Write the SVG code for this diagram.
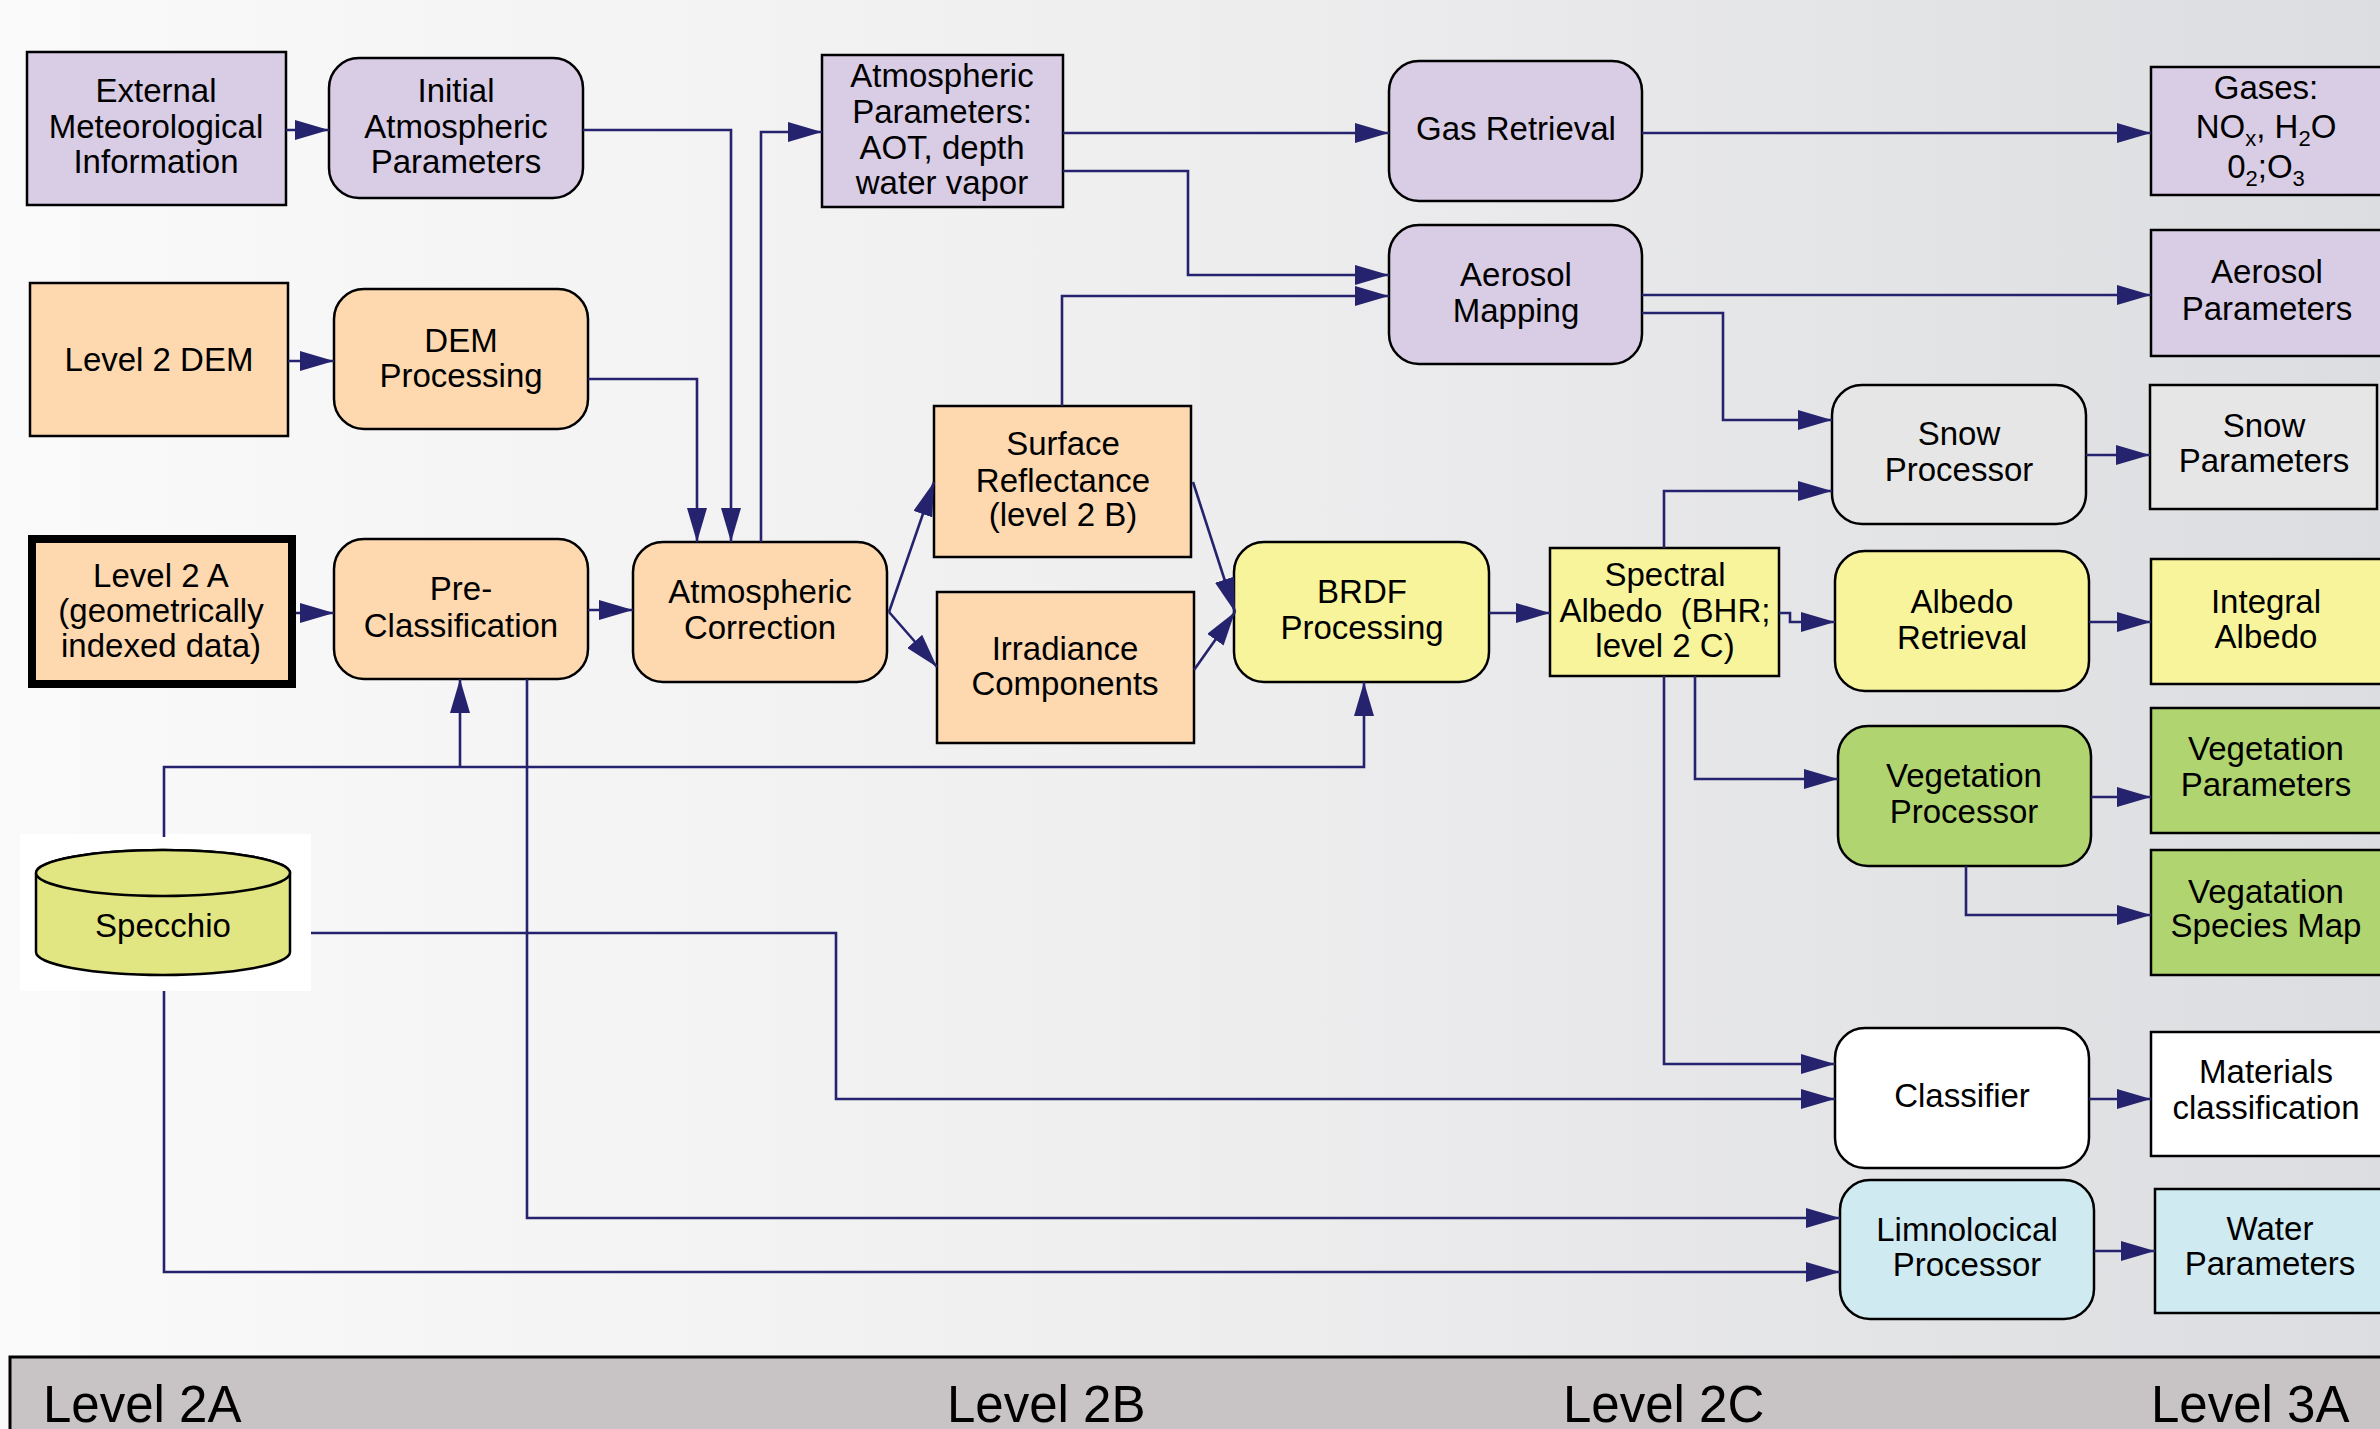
<svg xmlns="http://www.w3.org/2000/svg" width="2380" height="1429" viewBox="0 0 2380 1429">
<defs>
<linearGradient id="bg" x1="0" y1="0" x2="1" y2="0">
<stop offset="0" stop-color="#fafafa"/>
<stop offset="0.5" stop-color="#eeeeef"/>
<stop offset="1" stop-color="#dcdde0"/>
</linearGradient>
<marker id="arr" markerUnits="userSpaceOnUse" markerWidth="34" markerHeight="20" refX="34" refY="10" orient="auto" viewBox="0 0 34 20">
<path d="M0,0 L34,10 L0,20 Z" fill="#26236e"/>
</marker>
<style>
.t{font-family:"Liberation Sans",Arial,sans-serif;font-size:33px;text-anchor:middle;fill:#000}
.lv{font-family:"Liberation Sans",Arial,sans-serif;font-size:51px;fill:#000}
.b{stroke:#000;stroke-width:2.5}
.pu{fill:#d9cce5}
.or{fill:#fed8af}
.ye{fill:#f8f49b}
.gr{fill:#b0d46f}
.bl{fill:#cfebf1}
.wh{fill:#ffffff}
.sg{fill:#e6e6e6}
.c{fill:none;stroke:#26236e;stroke-width:2.6;marker-end:url(#arr)}
.sub{font-size:22px}
</style>
</defs>
<rect x="0" y="0" width="2380" height="1429" fill="url(#bg)"/>

<g id="nodes">
<g id="ext_met"><rect class="pu b" x="27" y="52" width="259" height="153"/>
<text class="t" x="156" y="102">External</text><text class="t" x="156" y="138">Meteorological</text><text class="t" x="156" y="173">Information</text></g>
<g id="init_atm"><rect class="pu b" x="329" y="58" width="254" height="140" rx="30"/>
<text class="t" x="456" y="102">Initial</text><text class="t" x="456" y="138">Atmospheric</text><text class="t" x="456" y="173">Parameters</text></g>
<g id="level2dem"><rect class="or b" x="30" y="283" width="258" height="153"/>
<text class="t" x="159" y="371">Level 2 DEM</text></g>
<g id="dem_proc"><rect class="or b" x="334" y="289" width="254" height="140" rx="30"/>
<text class="t" x="461" y="352">DEM</text><text class="t" x="461" y="387">Processing</text></g>
<g id="level2a"><rect class="or" x="32" y="539" width="260" height="145" stroke="#000" stroke-width="8"/>
<text class="t" x="161" y="587">Level 2 A</text><text class="t" x="161" y="622">(geometrically</text><text class="t" x="161" y="657">indexed data)</text></g>
<g id="pre_class"><rect class="or b" x="334" y="539" width="254" height="140" rx="30"/>
<text class="t" x="461" y="600">Pre-</text><text class="t" x="461" y="637">Classification</text></g>
<g id="atm_corr"><rect class="or b" x="633" y="542" width="254" height="140" rx="30"/>
<text class="t" x="760" y="603">Atmospheric</text><text class="t" x="760" y="639">Correction</text></g>
<g id="atm_params"><rect class="pu b" x="822" y="55" width="241" height="152"/>
<text class="t" x="942" y="87">Atmospheric</text><text class="t" x="942" y="123">Parameters:</text><text class="t" x="942" y="159">AOT, depth</text><text class="t" x="942" y="194">water vapor</text></g>
<g id="surf_refl"><rect class="or b" x="934" y="406" width="257" height="151"/>
<text class="t" x="1063" y="455">Surface</text><text class="t" x="1063" y="492">Reflectance</text><text class="t" x="1063" y="526">(level 2 B)</text></g>
<g id="irradiance"><rect class="or b" x="937" y="592" width="257" height="151"/>
<text class="t" x="1065" y="660">Irradiance</text><text class="t" x="1065" y="695">Components</text></g>
<g id="brdf"><rect class="ye b" x="1234" y="542" width="255" height="140" rx="30"/>
<text class="t" x="1362" y="603">BRDF</text><text class="t" x="1362" y="639">Processing</text></g>
<g id="gas_ret"><rect class="pu b" x="1389" y="61" width="253" height="140" rx="30"/>
<text class="t" x="1516" y="140">Gas Retrieval</text></g>
<g id="aerosol_map"><rect class="pu b" x="1389" y="225" width="253" height="139" rx="30"/>
<text class="t" x="1516" y="286">Aerosol</text><text class="t" x="1516" y="322">Mapping</text></g>
<g id="spectral"><rect class="ye b" x="1550" y="548" width="229" height="128"/>
<text class="t" x="1665" y="586">Spectral</text><text class="t" x="1665" y="622">Albedo&#160; (BHR;</text><text class="t" x="1665" y="657">level 2 C)</text></g>
<g id="snow_proc"><rect class="sg b" x="1832" y="385" width="254" height="139" rx="30"/>
<text class="t" x="1959" y="445">Snow</text><text class="t" x="1959" y="481">Processor</text></g>
<g id="albedo_ret"><rect class="ye b" x="1835" y="551" width="254" height="140" rx="30"/>
<text class="t" x="1962" y="613">Albedo</text><text class="t" x="1962" y="649">Retrieval</text></g>
<g id="veg_proc"><rect class="gr b" x="1838" y="726" width="253" height="140" rx="30"/>
<text class="t" x="1964" y="787">Vegetation</text><text class="t" x="1964" y="823">Processor</text></g>
<g id="classifier"><rect class="wh b" x="1835" y="1028" width="254" height="140" rx="30"/>
<text class="t" x="1962" y="1107">Classifier</text></g>
<g id="limno"><rect class="bl b" x="1840" y="1180" width="254" height="139" rx="30"/>
<text class="t" x="1967" y="1241">Limnolocical</text><text class="t" x="1967" y="1276">Processor</text></g>
<g id="gases"><rect class="pu b" x="2151" y="67" width="260" height="128"/>
<text class="t" x="2266" y="99">Gases:</text>
<text class="t" x="2266" y="138">NO<tspan class="sub" dy="8">x</tspan><tspan dy="-8">, H</tspan><tspan class="sub" dy="8">2</tspan><tspan dy="-8">O</tspan></text>
<text class="t" x="2266" y="178">0<tspan class="sub" dy="8">2</tspan><tspan dy="-8">;O</tspan><tspan class="sub" dy="8">3</tspan></text></g>
<g id="aerosol_params"><rect class="pu b" x="2151" y="230" width="260" height="126"/>
<text class="t" x="2267" y="283">Aerosol</text><text class="t" x="2267" y="320">Parameters</text></g>
<g id="snow_params"><rect class="sg b" x="2150" y="385" width="227" height="124"/>
<text class="t" x="2264" y="437">Snow</text><text class="t" x="2264" y="472">Parameters</text></g>
<g id="integral_albedo"><rect class="ye b" x="2151" y="559" width="260" height="125"/>
<text class="t" x="2266" y="613">Integral</text><text class="t" x="2266" y="648">Albedo</text></g>
<g id="veg_params"><rect class="gr b" x="2151" y="708" width="260" height="125"/>
<text class="t" x="2266" y="760">Vegetation</text><text class="t" x="2266" y="796">Parameters</text></g>
<g id="veg_species"><rect class="gr b" x="2151" y="850" width="260" height="125"/>
<text class="t" x="2266" y="903">Vegatation</text><text class="t" x="2266" y="937">Species Map</text></g>
<g id="materials"><rect class="wh b" x="2151" y="1032" width="260" height="124"/>
<text class="t" x="2266" y="1083">Materials</text><text class="t" x="2266" y="1119">classification</text></g>
<g id="water"><rect class="bl b" x="2155" y="1189" width="260" height="124"/>
<text class="t" x="2270" y="1240">Water</text><text class="t" x="2270" y="1275">Parameters</text></g>
<g id="specchio"><rect x="20" y="834" width="291" height="157" fill="#ffffff"/>
<path d="M36,873 A127,23 0 0 1 290,873 V952 A127,23 0 0 1 36,952 Z" fill="#e2e682" stroke="#000" stroke-width="2.5"/>
<ellipse cx="163" cy="873" rx="127" ry="23" fill="#e2e682" stroke="#000" stroke-width="2.5"/>
<text class="t" x="163" y="937">Specchio</text></g>
</g>

<g id="connectors">
<path class="c" d="M286,130 H329"/>
<path class="c" d="M583,130 H731 V542"/>
<path class="c" d="M288,361 H334"/>
<path class="c" d="M588,379 H697 V542"/>
<path class="c" d="M296,613 H334"/>
<path class="c" d="M588,610 H633"/>
<path class="c" d="M761,542 V132 H822"/>
<path class="c" d="M1063,133 H1389"/>
<path class="c" d="M1063,171 H1188 V275 H1389"/>
<path class="c" d="M1062,406 V296 H1389"/>
<path class="c" d="M1642,133 H2151"/>
<path class="c" d="M1642,295 H2151"/>
<path class="c" d="M1642,313 H1723 V420 H1832"/>
<path class="c" d="M2086,455 H2150"/>
<path class="c" d="M889,612 L934,482"/>
<path class="c" d="M889,612 L937,667"/>
<path class="c" d="M1193,482 L1235,612"/>
<path class="c" d="M1194,670 L1235,612"/>
<path class="c" d="M1489,613 H1550"/>
<path class="c" d="M1664,548 V491 H1832"/>
<path class="c" d="M1779,613 H1790 V622 H1835"/>
<path class="c" d="M2089,622 H2151"/>
<path class="c" d="M1695,676 V779 H1838"/>
<path class="c" d="M2091,797 H2151"/>
<path class="c" d="M1966,866 V915 H2151"/>
<path class="c" d="M1664,676 V1064 H1835"/>
<path class="c" d="M2089,1099 H2151"/>
<path class="c" d="M2094,1251 H2155"/>
<path class="c" d="M164,837 V767 H1364 V682"/>
<path class="c" d="M460,767 V679"/>
<path class="c" d="M311,933 H836 V1099 H1835"/>
<path class="c" d="M527,679 V1218 H1840"/>
<path class="c" d="M164,991 V1272 H1840"/>
</g>

<g id="level_band">
<rect x="10" y="1357" width="2380" height="80" fill="#c8c4c5" stroke="#000" stroke-width="3"/>
<text class="lv" x="43" y="1422">Level 2A</text>
<text class="lv" x="947" y="1422">Level 2B</text>
<text class="lv" x="1563" y="1422">Level 2C</text>
<text class="lv" x="2151" y="1422">Level 3A</text>
</g>
</svg>
